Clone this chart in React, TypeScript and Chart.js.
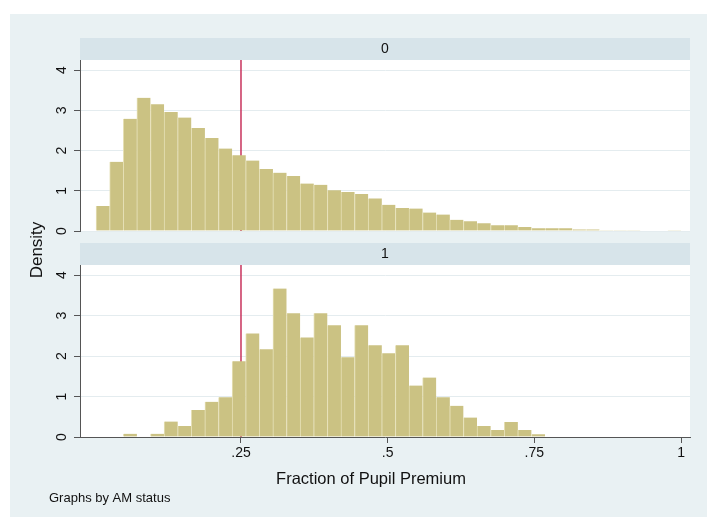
import React, { useEffect, useRef } from "react";
import { Chart, registerables } from "chart.js";

Chart.register(...registerables);

// ---- Data -----------------------------------------------------------
const BIN_START = 0.003;
const BIN_WIDTH = 0.02319;

// Density of "Fraction of Pupil Premium", AM status = 0
const densityAM0 = [
  0.62, 1.72, 2.79, 3.31, 3.15, 2.96, 2.82, 2.56, 2.31, 2.05,
  1.88, 1.75, 1.54, 1.45, 1.37, 1.18, 1.15, 1.01, 0.97, 0.92,
  0.81, 0.65, 0.57, 0.56, 0.46, 0.41, 0.28, 0.24, 0.19, 0.14,
  0.14, 0.1, 0.07, 0.07, 0.07, 0.04, 0.04, 0.02, 0.02, 0.02,
  0.01, 0.01, 0.02,
];

// Density of "Fraction of Pupil Premium", AM status = 1
const densityAM1 = [
  0, 0, 0.08, 0, 0.08, 0.38, 0.27, 0.67, 0.87, 0.98,
  1.87, 2.56, 2.17, 3.67, 3.06, 2.46, 3.06, 2.76, 1.97, 2.76,
  2.27, 2.07, 2.27, 1.27, 1.47, 0.98, 0.77, 0.48, 0.27, 0.17,
  0.37, 0.17, 0.07, 0, 0, 0, 0, 0, 0, 0,
  0, 0, 0,
];

const panelLabels = ["0", "1"];
const xTickValues = [0.25, 0.5, 0.75, 1];
const xTickLabels = [".25", ".5", ".75", "1"];
const yTickValues = [0, 1, 2, 3, 4];
const yTickLabels = ["0", "1", "2", "3", "4"];
const referenceLine = 0.25;
const xTitle = "Fraction of Pupil Premium";
const yTitle = "Density";
const noteText = "Graphs by AM status";

// ---- Styles ---------------------------------------------------------
const W = 707;
const H = 518;
const X_MIN = -0.0244;
const X_MAX = 1.0153;
const Y_MAX = 4.25;
const FONT = '"Liberation Sans", Arial, Helvetica, sans-serif';
const BG = "#e9f1f3";
const HEADER_BG = "#d7e4ea";
const BAR_FILL = "#cbc283";
const BAR_EDGE = "#e6e0b6";
const AXIS = "#555555";
const GRID = "#e4ecef";
const TEXT = "#111111";
const REF = "#c8325c";

const binCenters = densityAM0.map((_, i) => BIN_START + (i + 0.5) * BIN_WIDTH);

function makeDecor(panel: number) {
  return {
    id: "decor" + panel,
    beforeDraw(chart: any) {
      const { ctx, chartArea: a } = chart;
      ctx.save();
      if (panel === 1) {
        ctx.fillStyle = "#ffffff";
        ctx.fillRect(0, 0, chart.width, chart.height);
        ctx.fillStyle = BG;
        ctx.fillRect(10, 14, chart.width - 10, chart.height - 15);
      }
      ctx.fillStyle = HEADER_BG;
      ctx.fillRect(a.left, a.top - 22, a.right - a.left, 22);
      ctx.fillStyle = "#ffffff";
      ctx.fillRect(a.left, a.top, a.right - a.left, a.bottom - a.top);
      ctx.fillStyle = TEXT;
      ctx.font = `14px ${FONT}`;
      ctx.textAlign = "center";
      ctx.textBaseline = "middle";
      ctx.fillText(panelLabels[panel], (a.left + a.right) / 2, a.top - 11);
      ctx.restore();
    },
    beforeDatasetsDraw(chart: any) {
      const { ctx, chartArea: a } = chart;
      const x = chart.scales.x.getPixelForValue(referenceLine);
      ctx.save();
      ctx.strokeStyle = REF;
      ctx.lineWidth = 1.5;
      ctx.beginPath();
      ctx.moveTo(x, a.top);
      ctx.lineTo(x, a.bottom);
      ctx.stroke();
      ctx.restore();
    },
    afterDraw(chart: any) {
      const { ctx, chartArea: a } = chart;
      const ys = chart.scales.y;
      ctx.save();
      ctx.fillStyle = TEXT;
      ctx.font = `14px ${FONT}`;
      ctx.textAlign = "center";
      ctx.textBaseline = "middle";
      yTickValues.forEach((v, i) => {
        const py = ys.getPixelForValue(v);
        ctx.save();
        ctx.translate(a.left - 18, py);
        ctx.rotate(-Math.PI / 2);
        ctx.fillText(yTickLabels[i], 0, 0);
        ctx.restore();
      });
      if (panel === 1) {
        ctx.font = `16.5px ${FONT}`;
        ctx.fillText(xTitle, 371, 479);
        ctx.save();
        ctx.translate(37, 250);
        ctx.rotate(-Math.PI / 2);
        ctx.font = `17px ${FONT}`;
        ctx.fillText(yTitle, 0, 0);
        ctx.restore();
        ctx.font = `13px ${FONT}`;
        ctx.textAlign = "left";
        ctx.fillText(noteText, 49, 498);
      }
      ctx.restore();
    },
  };
}

function makeConfig(panel: number): any {
  const values = panel === 0 ? densityAM0 : densityAM1;
  const isBottom = panel === 1;
  const xScale: any = {
    type: "linear",
    display: isBottom,
    min: X_MIN,
    max: X_MAX,
    offset: false,
    afterBuildTicks: (s: any) => {
      s.ticks = xTickValues.map((v) => ({ value: v }));
    },
    grid: {
      display: true,
      offset: false,
      drawOnChartArea: false,
      drawTicks: true,
      tickLength: 6,
      tickColor: AXIS,
    },
    border: { display: true, color: AXIS, width: 1 },
    ticks: {
      autoSkip: false,
      maxRotation: 0,
      minRotation: 0,
      padding: 2,
      color: TEXT,
      font: { family: FONT, size: 14 },
      callback: (v: number) => {
        const i = xTickValues.indexOf(v);
        return i >= 0 ? xTickLabels[i] : "";
      },
    },
  };
  if (isBottom) {
    xScale.afterFit = (s: any) => {
      s.height = 60;
    };
  }
  return {
    type: "bar",
    data: {
      datasets: [
        {
          data: binCenters.map((x, i) => ({ x, y: values[i] })),
          backgroundColor: BAR_FILL,
          borderColor: BAR_EDGE,
          borderWidth: { left: 1, right: 0, top: 0, bottom: 0 },
          borderSkipped: false,
          barPercentage: 1,
          categoryPercentage: 1,
        },
      ],
    },
    options: {
      responsive: false,
      animation: false,
      events: [],
      layout: {
        padding: isBottom
          ? { top: 265, left: 0, right: 17, bottom: 21 }
          : { top: 60, left: 0, right: 17, bottom: H - 231 },
      },
      plugins: {
        legend: { display: false },
        tooltip: { enabled: false },
        title: { display: false },
      },
      scales: {
        x: xScale,
        y: {
          type: "linear",
          min: 0,
          max: Y_MAX,
          afterBuildTicks: (s: any) => {
            s.ticks = yTickValues.map((v) => ({ value: v }));
          },
          afterFit: (s: any) => {
            s.width = 80;
          },
          grid: {
            display: true,
            color: GRID,
            lineWidth: 1,
            drawTicks: true,
            tickLength: 6,
            tickColor: AXIS,
          },
          border: { display: true, color: AXIS, width: 1 },
          ticks: { display: false },
        },
      },
    },
    plugins: [makeDecor(panel)],
  };
}

export default function App() {
  const bottomRef = useRef<HTMLCanvasElement | null>(null);
  const topRef = useRef<HTMLCanvasElement | null>(null);

  useEffect(() => {
    const charts: Chart[] = [];
    if (bottomRef.current) charts.push(new Chart(bottomRef.current, makeConfig(1)));
    if (topRef.current) charts.push(new Chart(topRef.current, makeConfig(0)));
    return () => charts.forEach((c) => c.destroy());
  }, []);

  const canvasStyle: React.CSSProperties = {
    position: "absolute",
    left: 0,
    top: 0,
    width: W,
    height: H,
  };

  return (
    <div style={{ position: "absolute", left: 0, top: 0, width: W, height: H, background: "#fff" }}>
      <canvas ref={bottomRef} width={W} height={H} style={canvasStyle} />
      <canvas ref={topRef} width={W} height={H} style={canvasStyle} />
    </div>
  );
}
